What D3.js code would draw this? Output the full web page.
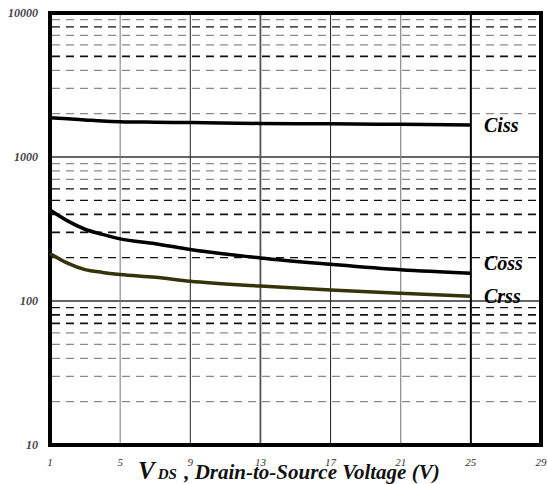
<!DOCTYPE html>
<html>
<head>
<meta charset="utf-8">
<script src="https://cdn.jsdelivr.net/npm/d3@7"></script>
<style>
  body { margin: 0; background: #fff; }
  svg text { font-family: "Liberation Serif", "Times New Roman", "DejaVu Serif", serif; font-style: italic; }
</style>
</head>
<body>
<div id="chart"></div>
<script>
// V_DS sample points (V) and capacitances (pF)
const vds  = [1, 2, 3, 4, 5, 7, 9, 13, 17, 21, 25];
const ciss = [1875, 1840, 1810, 1780, 1760, 1745, 1735, 1710, 1700, 1685, 1670];
const coss = [428, 360, 315, 290, 270, 250, 228, 199, 180, 165, 156];
const crss = [214, 183, 165, 158, 153, 146, 137, 127, 119, 113, 108];

const xTicks = [1, 5, 9, 13, 17, 21, 25, 29];
const yTicks = [10, 100, 1000, 10000];
const seriesNames = ["Ciss", "Coss", "Crss"];

const width = 547, height = 484;
const svg = d3.select("#chart").append("svg")
    .attr("width", width)
    .attr("height", height);

const x = d3.scaleLinear().domain([1, 29]).range([50, 541]);
const y = d3.scaleLog().domain([10, 10000]).range([445, 13]);

// minor horizontal dashed grid (2..9 of each decade)
const minor = [];
yTicks.slice(0, -1).forEach(d => {
    for (let k = 2; k <= 9; k++) minor.push(d * k);
});
const darkMinor = [8000, 5000, 600, 500, 400, 300, 200, 90, 80, 70];
const boldMinor = [5000, 400, 300, 80, 70];

svg.append("g").selectAll("line")
    .data(minor)
    .join("line")
    .attr("x1", x(1) + 2)
    .attr("x2", x(29) - 2)
    .attr("y1", d => y(d))
    .attr("y2", d => y(d))
    .attr("stroke", d => darkMinor.includes(d) ? "#111" : "#8a8a8a")
    .attr("stroke-width", d => boldMinor.includes(d) ? 1.8 : 1.3)
    .attr("stroke-dasharray", "8,6");

// decade lines
svg.append("g").selectAll("line")
    .data([100, 1000])
    .join("line")
    .attr("x1", x(1))
    .attr("x2", x(29))
    .attr("y1", d => y(d))
    .attr("y2", d => y(d))
    .attr("stroke", "#333")
    .attr("stroke-width", 1.3);

// vertical grid
const vStyle = { 5: ["#777", 1], 9: ["#222", 1], 13: ["#555", 1.8], 17: ["#222", 1], 21: ["#888", 1.2], 25: ["#000", 2] };
svg.append("g").selectAll("line")
    .data(xTicks.slice(1, -1))
    .join("line")
    .attr("x1", d => x(d))
    .attr("x2", d => x(d))
    .attr("y1", y(10000))
    .attr("y2", y(10))
    .attr("stroke", d => vStyle[d][0])
    .attr("stroke-width", d => vStyle[d][1]);

// frame
svg.append("rect")
    .attr("x", x(1))
    .attr("y", y(10000))
    .attr("width", x(29) - x(1))
    .attr("height", y(10) - y(10000))
    .attr("fill", "none")
    .attr("stroke", "#000")
    .attr("stroke-width", 4);

// curves
const series = [
    { name: "Ciss", values: ciss, color: "#000" },
    { name: "Coss", values: coss, color: "#000" },
    { name: "Crss", values: crss, color: "#34330a" }
];

const line = d3.line()
    .x((d, i) => x(vds[i]))
    .y(d => y(d))
    .curve(d3.curveMonotoneX);

svg.append("g").selectAll("path")
    .data(series)
    .join("path")
    .attr("fill", "none")
    .attr("stroke", d => d.color)
    .attr("stroke-width", 3.5)
    .attr("d", d => line(d.values));

// series labels
const labelY = { Ciss: 132, Coss: 270, Crss: 303 };
svg.append("g").selectAll("text")
    .data(seriesNames)
    .join("text")
    .attr("x", 484)
    .attr("y", d => labelY[d])
    .style("font-size", "20px")
    .style("font-weight", "bold")
    .text(d => d);

// y tick labels
svg.append("g").selectAll("text")
    .data(yTicks)
    .join("text")
    .attr("x", 38)
    .attr("y", d => y(d))
    .attr("dy", "0.35em")
    .attr("text-anchor", "end")
    .style("font-size", "12px")
    .style("font-weight", "bold")
    .attr("fill", "#444")
    .text(d => d);

// x tick labels
svg.append("g").selectAll("text")
    .data(xTicks)
    .join("text")
    .attr("x", d => x(d))
    .attr("y", 466)
    .attr("text-anchor", "middle")
    .style("font-size", "11px")
    .attr("fill", "#333")
    .text(d => d);

// x axis title
const title = svg.append("text")
    .attr("x", 138)
    .attr("y", 479)
    .style("font-weight", "bold")
    .attr("fill", "#111");
title.append("tspan").style("font-size", "25px").text("V");
title.append("tspan").style("font-size", "15px").attr("dx", 3).text("DS");
title.append("tspan").style("font-size", "21px").attr("dx", 2).text(" , Drain-to-Source Voltage (V)");
</script>
</body>
</html>
